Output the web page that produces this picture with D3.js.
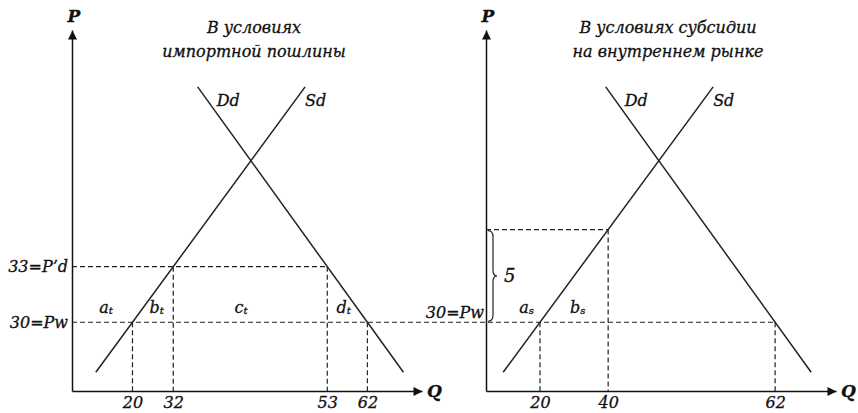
<!DOCTYPE html>
<html>
<head>
<meta charset="utf-8">
<title></title>
<script src="https://d3js.org/d3.v7.min.js"></script>
<style>
  body { margin: 0; background: #fff; }
  text { font-family: "DejaVu Serif", serif; font-style: italic; fill: #111;
         stroke: #111; stroke-width: 0.3px; }
</style>
</head>
<body>
<svg id="chart"></svg>
<script>
// prices (P axis)
var pw = 30;
var leftPrices = [30, 33];
var leftPriceLabels = ["30=Pw", "33=P\u2019d"];
var rightPrices = [30, 35];

// quantities, with the price and curve they sit on
var leftQ = [20, 32, 53, 62];
var leftQPrice = [30, 33, 33, 30];
var leftQCurve = ["Sd", "Sd", "Dd", "Dd"];
var rightQ = [20, 40, 62];
var rightQPrice = [30, 35, 30];
var rightQCurve = ["Sd", "Sd", "Dd"];

// schematic curves: [q (0-100 drawing units), P]
var leftSd = [[6.8, 27.3], [66.6, 42.7]];
var leftDd = [[35.9, 42.7], [94.7, 27.3]];
var rightSd = [[4.9, 27.3], [64.9, 42.7]];
var rightDd = [[34.2, 42.7], [92.9, 27.3]];

var leftAreas = ["a", "b", "c", "d"];
var rightAreas = ["a", "b"];

var leftTitle = ["В условиях", "импортной пошлины"];
var rightTitle = ["В условиях субсидии", "на внутреннем рынке"];

var width = 858, height = 413;
var svg = d3.select("#chart").attr("width", width).attr("height", height);

var y = d3.scaleLinear().domain([26.29, 45.77]).range([391, 30]);

svg.append("defs").append("marker")
    .attr("id", "arrow")
    .attr("viewBox", "0 0 10 10")
    .attr("refX", 10).attr("refY", 5)
    .attr("markerWidth", 11).attr("markerHeight", 9)
    .attr("markerUnits", "userSpaceOnUse")
    .attr("orient", "auto")
    .append("path").attr("d", "M0,0L10,5L0,10z").attr("fill", "#111");

function qAt(curve, p) {
    var t = (p - curve[0][1]) / (curve[1][1] - curve[0][1]);
    return curve[0][0] + t * (curve[1][0] - curve[0][0]);
}

function dashed(g, x1, y1, x2, y2) {
    g.append("line")
        .attr("x1", x1).attr("y1", y1).attr("x2", x2).attr("y2", y2)
        .attr("stroke", "#222").attr("stroke-width", 1.2)
        .attr("stroke-dasharray", "5,3");
}

function subLabel(g, x, yy, main, sub) {
    var t = g.append("text").attr("x", x).attr("y", yy)
        .attr("text-anchor", "middle").attr("font-size", 16);
    t.append("tspan").text(main);
    t.append("tspan").attr("font-size", 10).attr("dy", 1).text(sub);
}

function panel(ox, curves, qs, qPrices, qCurves, prices, priceLabels, title) {
    var x = d3.scaleLinear().domain([0, 100]).range([ox, ox + 350]);
    var g = svg.append("g");
    var qPos = qs.map(function(q, i) { return qAt(curves[qCurves[i]], qPrices[i]); });

    // dashed guides
    prices.forEach(function(p) {
        if (p === pw) return;
        var right = d3.max(qPos.filter(function(d, i) { return qPrices[i] === p; }));
        dashed(g, ox, y(p), x(right), y(p));
    });
    qPos.forEach(function(d, i) {
        dashed(g, x(d), y(qPrices[i]), x(d), y.range()[0]);
    });

    // curves
    ["Dd", "Sd"].forEach(function(k) {
        var c = curves[k];
        g.append("line")
            .attr("x1", x(c[0][0])).attr("y1", y(c[0][1]))
            .attr("x2", x(c[1][0])).attr("y2", y(c[1][1]))
            .attr("stroke", "#222").attr("stroke-width", 1.5);
        var top = c[0][1] > c[1][1] ? c[0] : c[1];
        g.append("text")
            .attr("x", x(top[0]) + (k === "Dd" ? 19 : 0))
            .attr("y", y(top[1]) + 19)
            .attr("font-size", 16)
            .text(k);
    });

    // axes
    var xAxis = g.append("g").attr("transform", "translate(0," + y.range()[0] + ")")
        .call(d3.axisBottom(x).tickValues(qPos).tickSize(0).tickSizeOuter(0).tickPadding(6)
            .tickFormat(function(d, i) { return qs[i]; }));
    var yAxis = g.append("g").attr("transform", "translate(" + ox + ",0)")
        .call(d3.axisLeft(y).tickValues(prices.filter(function(p, i) { return priceLabels[i]; }))
            .tickSize(0).tickSizeOuter(0).tickPadding(4)
            .tickFormat(function(d) { return priceLabels[prices.indexOf(d)]; }));
    [xAxis, yAxis].forEach(function(a) {
        a.attr("font-family", null).attr("font-size", null);
        a.select(".domain").attr("stroke", "#111").attr("stroke-width", 1.5)
            .attr("marker-end", "url(#arrow)");
        a.selectAll(".tick text").attr("font-size", 16).attr("fill", null);
    });

    g.append("text").attr("x", ox + 2).attr("y", 22).attr("text-anchor", "middle")
        .attr("font-size", 17).attr("font-weight", "bold").text("P");
    g.append("text").attr("x", ox + 355).attr("y", 397)
        .attr("font-size", 17).attr("font-weight", "bold").text("Q");

    var tt = g.append("text").attr("x", x(52)).attr("text-anchor", "middle").attr("font-size", 16);
    title.forEach(function(line, i) {
        tt.append("tspan").attr("x", x(52)).attr("y", 33 + i * 23.5).text(line);
    });

    return { x: x, g: g, qPos: qPos };
}

// area labels sit between two bounds, at a share of the gap
function areaLabels(P, bounds, names, shares, sub, pl) {
    names.forEach(function(a, i) {
        var q = bounds[i] + shares[i] * (bounds[i + 1] - bounds[i]);
        subLabel(P.g, P.x(q), y(pl) + 1, a, sub);
    });
}

var pl = 30.55;

// left: import tariff
var L = panel(72, { Sd: leftSd, Dd: leftDd }, leftQ, leftQPrice, leftQCurve,
    leftPrices, leftPriceLabels, leftTitle);
areaLabels(L, [0, qAt(leftSd, pl), L.qPos[1], L.qPos[2], qAt(leftDd, pl)],
    leftAreas, [0.5, 0.5, 0.44, 0.5], "t", pl);

// right: domestic subsidy
var R = panel(486, { Sd: rightSd, Dd: rightDd }, rightQ, rightQPrice, rightQCurve,
    rightPrices, [null, null], rightTitle);
areaLabels(R, [0, qAt(rightSd, pl), R.qPos[1]], rightAreas, [0.66, 0.5], "s", pl);
R.g.append("text").attr("x", 484).attr("y", y(pw) - 4).attr("text-anchor", "end")
    .attr("font-size", 16).text("30=Pw");

// Pw line runs across both panels
dashed(svg, L.x(0), y(pw), R.x(R.qPos[2]), y(pw));

// brace for the subsidy
var ox = 486, yT = y(rightPrices[1]) + 1, yB = y(pw) - 1, ym = (yT + yB) / 2;
var bx0 = ox + 2, bx1 = ox + 7, bxc = ox + 11;
svg.append("path")
    .attr("d", "M" + bx0 + "," + yT + "Q" + bx1 + "," + yT + " " + bx1 + "," + (yT + 6) +
        "L" + bx1 + "," + (ym - 6) + "Q" + bx1 + "," + ym + " " + bxc + "," + ym +
        "Q" + bx1 + "," + ym + " " + bx1 + "," + (ym + 6) +
        "L" + bx1 + "," + (yB - 6) + "Q" + bx1 + "," + yB + " " + bx0 + "," + yB)
    .attr("fill", "none").attr("stroke", "#222").attr("stroke-width", 1.2);
svg.append("text").attr("x", ox + 18).attr("y", ym + 6).attr("font-size", 18)
    .text(rightPrices[1] - pw);
</script>
</body>
</html>
